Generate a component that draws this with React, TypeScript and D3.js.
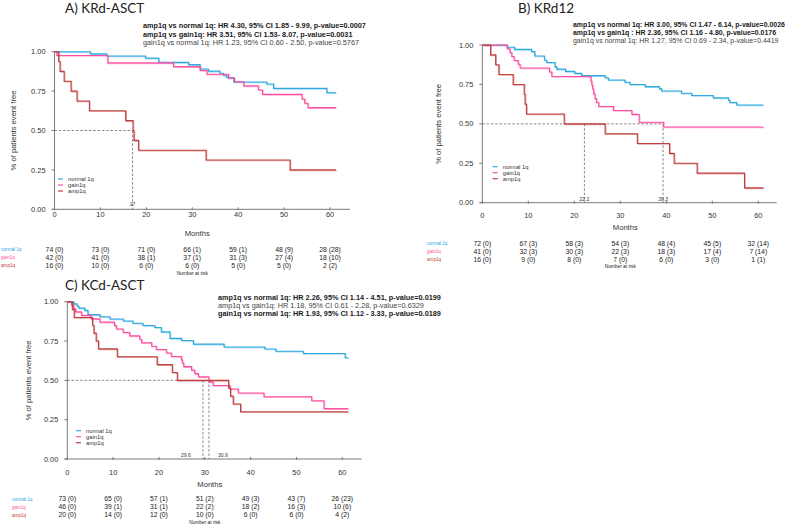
import React from 'react';
import * as d3 from 'd3';

// ---------- data ----------
const timeTicks = [0, 10, 20, 30, 40, 50, 60];
const survTicks = [0, 0.25, 0.5, 0.75, 1];
const survTickLabels = ['0.00', '0.25', '0.50', '0.75', '1.00'];
const groupNames = ['normal 1q', 'gain1q', 'amp1q'];

// Panel A: KRd-ASCT
const aNormalT = [0, 7.8, 11.4, 19.8, 22.7, 29.2, 31.7, 33.5, 36, 36.8, 37.5, 39, 46.2, 47.7, 59.3, 61.3];
const aNormalS = [1, 0.986, 0.973, 0.959, 0.932, 0.918, 0.89, 0.877, 0.863, 0.849, 0.836, 0.808, 0.795, 0.767, 0.74, 0.74];
const aGainT = [0, 0.5, 11.6, 25.9, 31.7, 33.2, 37.9, 39.2, 41.2, 44.4, 45.3, 53.9, 54.5, 55.2, 61.3];
const aGainS = [1, 0.976, 0.929, 0.905, 0.881, 0.857, 0.833, 0.809, 0.783, 0.757, 0.729, 0.7, 0.673, 0.645, 0.645];
const aAmpT = [0, 0.9, 1.2, 2.1, 3.6, 4.9, 7.6, 15.5, 17.1, 17.3, 18.3, 33, 51.3, 61.3];
const aAmpS = [1, 0.9375, 0.875, 0.8125, 0.75, 0.6875, 0.625, 0.5625, 0.5, 0.4375, 0.375, 0.3125, 0.25, 0.25];
const aRiskNormal = ['74 (0)', '73 (0)', '71 (0)', '66 (1)', '59 (1)', '48 (9)', '28 (28)'];
const aRiskGain = ['42 (0)', '41 (0)', '38 (1)', '37 (1)', '31 (3)', '27 (4)', '18 (10)'];
const aRiskAmp = ['16 (0)', '10 (0)', '6 (0)', '6 (0)', '5 (0)', '5 (0)', '2 (2)'];
const aHR = [
  'amp1q vs normal 1q: HR 4.30, 95% CI 1.85 - 9.99, p-value=0.0007',
  'amp1q vs gain1q: HR 3.51, 95% CI 1.53- 8.07, p-value=0.0031',
  'gain1q vs normal 1q: HR 1.23, 95% CI 0.60 - 2.50, p-value=0.5767',
];
const aHRBold = [true, true, false];
const aMedians = [17];
const aMedianLabels = ['17'];

// Panel B: KRd12
const bNormalT = [0, 5.4, 7, 10.7, 11.4, 13.5, 14, 15.8, 16.2, 18.1, 20.1, 21.6, 26.7, 27.4, 31, 32.1, 35.4, 38.5, 39, 43.3, 45.5, 50.2, 53.5, 53.8, 55.3, 61.1];
const bNormalS = [1, 0.986, 0.972, 0.958, 0.93, 0.903, 0.889, 0.861, 0.847, 0.833, 0.82, 0.806, 0.792, 0.778, 0.764, 0.75, 0.736, 0.722, 0.708, 0.694, 0.68, 0.665, 0.65, 0.635, 0.62, 0.62];
const bGainT = [0, 5.4, 6.0, 6.4, 6.9, 7.8, 8.2, 14.6, 15.1, 23.6, 23.8, 24.0, 24.2, 24.5, 24.8, 25.3, 28.5, 32.5, 34.1, 39.4, 61.1];
const bGainS = [1, 0.976, 0.951, 0.927, 0.902, 0.878, 0.854, 0.829, 0.8, 0.77, 0.745, 0.72, 0.69, 0.66, 0.635, 0.61, 0.585, 0.56, 0.51, 0.48, 0.48];
const bAmpT = [0, 1.8, 2.9, 3.6, 6.7, 9.1, 9.3, 9.6, 17.8, 26.7, 33.7, 40.7, 41.7, 46.7, 57, 61.1];
const bAmpS = [1, 0.9375, 0.875, 0.8125, 0.75, 0.6875, 0.625, 0.5625, 0.5, 0.4375, 0.375, 0.3125, 0.25, 0.1875, 0.094, 0.094];
const bRiskNormal = ['72 (0)', '67 (3)', '58 (3)', '54 (3)', '48 (4)', '45 (5)', '32 (14)'];
const bRiskGain = ['41 (0)', '32 (3)', '30 (3)', '22 (3)', '18 (3)', '17 (4)', '7 (14)'];
const bRiskAmp = ['16 (0)', '9 (0)', '8 (0)', '7 (0)', '6 (0)', '3 (0)', '1 (1)'];
const bHR = [
  'amp1q vs normal 1q: HR 3.00, 95% CI 1.47 - 6.14, p-value=0.0026',
  'amp1q vs gain1q : HR 2.36, 95% CI 1.16 - 4.80, p-value=0.0176',
  'gain1q vs normal 1q: HR 1.27, 95% CI 0.69 - 2.34, p-value=0.4419',
];
const bHRBold = [true, true, false];
const bMedians = [22.2, 39.3];
const bMedianLabels = ['22.2', '39.3'];

// Panel C: KCd-ASCT
const cNormalT = [0, 1.4, 2.1, 2.5, 3.8, 4.5, 7.1, 9.3, 12.2, 14.3, 16.5, 19.1, 20.5, 22.4, 24.9, 27.5, 34.2, 43.1, 45.5, 51.5, 60.6, 61.3];
const cNormalS = [1, 0.986, 0.973, 0.959, 0.945, 0.918, 0.904, 0.89, 0.877, 0.863, 0.849, 0.836, 0.808, 0.767, 0.753, 0.73, 0.712, 0.699, 0.685, 0.671, 0.644, 0.644];
const cGainT = [0, 0.9, 1.4, 1.8, 3.1, 5.2, 7.1, 10.3, 10.7, 12.2, 13.6, 15.8, 16.2, 18.4, 19.4, 21.6, 22.7, 24.9, 25.1, 25.4, 27.1, 27.8, 28.6, 30.9, 31.8, 35.5, 37.3, 42.9, 53.3, 56, 61.3];
const cGainS = [1, 0.978, 0.957, 0.935, 0.913, 0.891, 0.87, 0.848, 0.826, 0.804, 0.783, 0.761, 0.739, 0.717, 0.696, 0.674, 0.652, 0.63, 0.609, 0.587, 0.565, 0.543, 0.522, 0.49, 0.467, 0.445, 0.42, 0.396, 0.37, 0.32, 0.32];
const cAmpT = [0, 1.1, 1.5, 5.5, 5.8, 6.3, 6.8, 10.9, 19.6, 22.9, 24.0, 35.2, 35.6, 36.2, 37.8, 61.3];
const cAmpS = [1, 0.95, 0.9, 0.85, 0.8, 0.75, 0.7, 0.65, 0.6, 0.55, 0.5, 0.45, 0.4, 0.35, 0.3, 0.3];
const cRiskNormal = ['73 (0)', '65 (0)', '57 (1)', '51 (2)', '49 (3)', '43 (7)', '26 (23)'];
const cRiskGain = ['46 (0)', '39 (1)', '31 (1)', '22 (2)', '18 (2)', '16 (3)', '10 (6)'];
const cRiskAmp = ['20 (0)', '14 (0)', '12 (0)', '10 (0)', '6 (0)', '6 (0)', '4 (2)'];
const cHR = [
  'amp1q vs normal 1q: HR 2.26, 95% CI 1.14 - 4.51, p-value=0.0199',
  'amp1q vs gain1q: HR 1.18, 95% CI 0.61 - 2.28, p-value=0.6329',
  'gain1q vs normal 1q: HR 1.93, 95% CI 1.12 - 3.33, p-value=0.0189',
];
const cHRBold = [true, false, true];
const cMedians = [29.6, 30.9];
const cMedianLabels = ['29.6', '30.9'];

// ---------- styling ----------
const COLORS = ['#2ea9df', '#ff4fa0', '#bf3f3c'];
const SANS = '"Liberation Sans", Arial, sans-serif';
const TITLE_FONT = 'Lato, "Open Sans", sans-serif';
const AXIS = '#7a7a7a';

type Cfg = {
  title: string;
  titleX: number;
  titleY: number;
  x0: number;
  x60: number;
  y0: number;
  y1: number;
  axisEnd: number;
  hrX: number;
  hrY: number;
  hrFont: number;
  tickLabelY: number;
  monthsY: number;
  riskY: number[];
  riskLabelX: number;
  riskLabelAnchor: 'start' | 'end';
  nRiskY: number;
  yLabelX: number;
  legX: number;
  legY: number;
  medLabelY: number;
  medLabelDx: number[];
  medLabelAnchor: ('start' | 'middle' | 'end')[];
};

function KMPanel(props: {
  cfg: Cfg;
  curves: { t: number[]; s: number[] }[];
  risk: string[][];
  hr: string[];
  hrBold: boolean[];
  medians: number[];
  medianLabels: string[];
}) {
  const { cfg, curves, risk, hr, hrBold, medians, medianLabels } = props;
  const x = d3.scaleLinear().domain([0, 60]).range([cfg.x0, cfg.x60]);
  const y = d3.scaleLinear().domain([0, 1]).range([cfg.y0, cfg.y1]);
  const line = d3
    .line<[number, number]>()
    .x((d) => x(d[0]))
    .y((d) => y(d[1]))
    .curve(d3.curveStepAfter);
  const maxMed = Math.max(...medians);
  const xAxisEndMonths = x.invert(cfg.axisEnd);
  return (
    <g>
      <text x={cfg.titleX} y={cfg.titleY} fontFamily={TITLE_FONT} fontSize={13.5} fill="#222">
        {cfg.title}
      </text>
      {hr.map((h, i) => (
        <text
          key={i}
          x={cfg.hrX}
          y={cfg.hrY + i * 8.2}
          fontFamily={SANS}
          fontSize={cfg.hrFont}
          fontWeight={hrBold[i] ? 'bold' : 'normal'}
          fill={hrBold[i] ? '#1a1a1a' : '#444'}
        >
          {h}
        </text>
      ))}
      {/* axes */}
      <line x1={x(0)} x2={x(0)} y1={y(0)} y2={y(1)} stroke={AXIS} strokeWidth={1} />
      <line x1={x(-0.6)} x2={x(xAxisEndMonths)} y1={y(0)} y2={y(0)} stroke={AXIS} strokeWidth={1} />
      {survTicks.map((v, i) => (
        <g key={i}>
          <line x1={x(0) - 3} x2={x(0)} y1={y(v)} y2={y(v)} stroke={AXIS} />
          <text x={x(0) - 9} y={y(v) + 2.6} textAnchor="end" fontFamily={SANS} fontSize={7.4} fill="#333">
            {survTickLabels[i]}
          </text>
        </g>
      ))}
      {timeTicks.map((t) => (
        <g key={t}>
          <line x1={x(t)} x2={x(t)} y1={y(0) - 2} y2={y(0) + 1} stroke={AXIS} />
          <text x={x(t)} y={cfg.tickLabelY + 2.6} textAnchor="middle" fontFamily={SANS} fontSize={7.4} fill="#333">
            {t}
          </text>
        </g>
      ))}
      <text x={(x(0) + x(60)) / 2 + 5} y={cfg.monthsY + 2.7} textAnchor="middle" fontFamily={SANS} fontSize={7.6} fill="#333">
        Months
      </text>
      <text
        transform={`translate(${cfg.yLabelX},${(y(0) + y(1)) / 2}) rotate(-90)`}
        textAnchor="middle"
        dy="0.35em"
        fontFamily={SANS}
        fontSize={7.6}
        fill="#333"
      >
        % of patients event free
      </text>
      {/* median lines */}
      <line x1={x(0)} x2={x(maxMed)} y1={y(0.5)} y2={y(0.5)} stroke="#555" strokeWidth={0.7} strokeDasharray="2.5,1.8" />
      {medians.map((m, i) => (
        <g key={i}>
          <line x1={x(m)} x2={x(m)} y1={y(0.5)} y2={y(0)} stroke="#555" strokeWidth={0.7} strokeDasharray="2.5,1.8" />
          <text
            x={x(m) + cfg.medLabelDx[i]}
            y={cfg.medLabelY + 1.8}
            textAnchor={cfg.medLabelAnchor[i]}
            fontFamily={SANS}
            fontSize={5}
            fill="#333"
          >
            {medianLabels[i]}
          </text>
        </g>
      ))}
      {/* curves */}
      {curves.map((c, i) => {
        const pts = c.t.map((t, j) => [t, c.s[j]] as [number, number]);
        return (
          <g key={i}>
            <path d={line(pts) || ''} fill="none" stroke={COLORS[i]} strokeOpacity={0.45} strokeWidth={1.2} transform="translate(0.7,0.7)" />
            <path d={line(pts) || ''} fill="none" stroke={COLORS[i]} strokeWidth={1.1} />
          </g>
        );
      })}
      {/* legend */}
      {groupNames.map((g, i) => (
        <g key={g}>
          <line x1={cfg.legX} x2={cfg.legX + 5} y1={cfg.legY + i * 6} y2={cfg.legY + i * 6} stroke={COLORS[i]} strokeWidth={1.2} />
          <text x={cfg.legX + 10} y={cfg.legY + i * 6 + 2} fontFamily={SANS} fontSize={5.8} fill="#333">
            {g}
          </text>
        </g>
      ))}
      {/* risk table */}
      {risk.map((row, r) => (
        <g key={r}>
          <text
            x={cfg.riskLabelX}
            y={cfg.riskY[r] + 1.7}
            textAnchor={cfg.riskLabelAnchor}
            fontFamily={SANS}
            fontSize={4.6}
            fill={COLORS[r]}
          >
            {groupNames[r]}
          </text>
          {row.map((v, k) => (
            <text key={k} x={x(timeTicks[k])} y={cfg.riskY[r] + 2.4} textAnchor="middle" fontFamily={SANS} fontSize={6.8} fill="#222">
              {v}
            </text>
          ))}
        </g>
      ))}
      <text x={x(30)} y={cfg.nRiskY + 1.7} textAnchor="middle" fontFamily={SANS} fontSize={4.8} fill="#222">
        Number at risk
      </text>
    </g>
  );
}

const cfgA: Cfg = {
  title: 'A) KRd-ASCT', titleX: 65, titleY: 13,
  x0: 54.5, x60: 330, y0: 209.3, y1: 51.7, axisEnd: 350,
  hrX: 143, hrY: 28.3, hrFont: 7.3, tickLabelY: 214.5, monthsY: 233, riskY: [249.3, 257.3, 265.3],
  riskLabelX: 1, riskLabelAnchor: 'start', nRiskY: 273.3, yLabelX: 13,
  legX: 58, legY: 179, medLabelY: 204, medLabelDx: [0], medLabelAnchor: ['middle'],
};
const cfgB: Cfg = {
  title: 'B) KRd12', titleX: 518, titleY: 12.5,
  x0: 482.3, x60: 758.3, y0: 202.7, y1: 45, axisEnd: 776.7,
  hrX: 573, hrY: 26.6, hrFont: 6.95, tickLabelY: 215.7, monthsY: 227.7, riskY: [243.3, 251.5, 259.3],
  riskLabelX: 427, riskLabelAnchor: 'start', nRiskY: 266.7, yLabelX: 438,
  legX: 492.7, legY: 166.7, medLabelY: 199.3, medLabelDx: [0, 0], medLabelAnchor: ['middle', 'middle'],
};
const cfgC: Cfg = {
  title: 'C) KCd-ASCT', titleX: 65, titleY: 290,
  x0: 67.3, x60: 342.3, y0: 459, y1: 301.7, axisEnd: 361.7,
  hrX: 218, hrY: 299.6, hrFont: 7.3, tickLabelY: 472.7, monthsY: 484, riskY: [499, 506.9, 515],
  riskLabelX: 12, riskLabelAnchor: 'start', nRiskY: 522.5, yLabelX: 28.3,
  legX: 76, legY: 430.7, medLabelY: 455, medLabelDx: [-17, 14], medLabelAnchor: ['middle', 'middle'],
};

export default function App() {
  return (
    <svg
      width={790}
      height={525}
      viewBox="0 0 790 525"
      style={{ position: 'absolute', left: 0, top: 0, background: '#fff' }}
    >
      <rect width={790} height={525} fill="#fff" />
      <KMPanel
        cfg={cfgA}
        curves={[
          { t: aNormalT, s: aNormalS },
          { t: aGainT, s: aGainS },
          { t: aAmpT, s: aAmpS },
        ]}
        risk={[aRiskNormal, aRiskGain, aRiskAmp]}
        hr={aHR}
        hrBold={aHRBold}
        medians={aMedians}
        medianLabels={aMedianLabels}
      />
      <KMPanel
        cfg={cfgB}
        curves={[
          { t: bNormalT, s: bNormalS },
          { t: bGainT, s: bGainS },
          { t: bAmpT, s: bAmpS },
        ]}
        risk={[bRiskNormal, bRiskGain, bRiskAmp]}
        hr={bHR}
        hrBold={bHRBold}
        medians={bMedians}
        medianLabels={bMedianLabels}
      />
      <KMPanel
        cfg={cfgC}
        curves={[
          { t: cNormalT, s: cNormalS },
          { t: cGainT, s: cGainS },
          { t: cAmpT, s: cAmpS },
        ]}
        risk={[cRiskNormal, cRiskGain, cRiskAmp]}
        hr={cHR}
        hrBold={cHRBold}
        medians={cMedians}
        medianLabels={cMedianLabels}
      />
    </svg>
  );
}
